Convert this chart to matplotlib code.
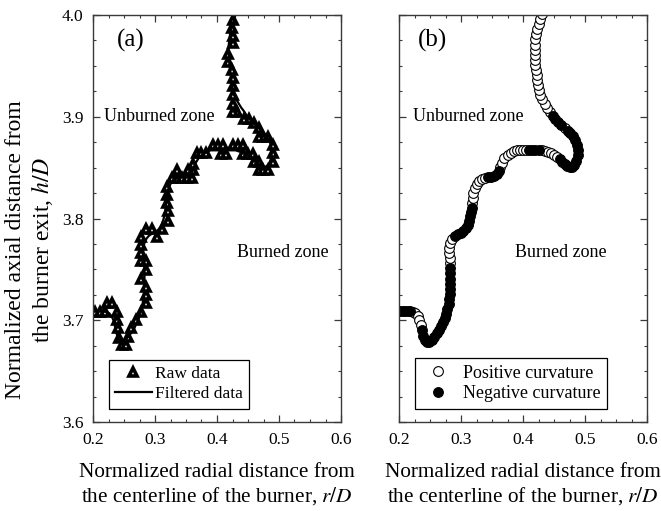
import numpy as np
import matplotlib
matplotlib.use("Agg")
import matplotlib.pyplot as plt
from matplotlib.ticker import MultipleLocator
from matplotlib.lines import Line2D

plt.rcParams['font.family'] = 'serif'
plt.rcParams['font.serif'] = ['Liberation Serif', 'DejaVu Serif']
plt.rcParams['mathtext.fontset'] = 'stix'

# filtered flame front (r/D, h/D)
filt_r = [0.198, 0.202, 0.206, 0.210, 0.214, 0.218,
          0.222, 0.226, 0.230, 0.233, 0.235,
          0.237, 0.239, 0.242, 0.245, 0.249, 0.253, 0.257, 0.261, 0.265, 0.268, 0.271,
          0.274, 0.276, 0.278, 0.280, 0.281, 0.282, 0.282, 0.283, 0.283, 0.283, 0.283,
          0.283, 0.282, 0.281, 0.281, 0.283, 0.286,
          0.290, 0.295, 0.300, 0.304, 0.308, 0.311, 0.313, 0.315, 0.316, 0.317,
          0.318, 0.319, 0.320, 0.322, 0.325, 0.329, 0.334, 0.339,
          0.344, 0.349, 0.354, 0.358, 0.361,
          0.363, 0.366, 0.370, 0.375, 0.380, 0.385, 0.390, 0.395, 0.400, 0.405,
          0.410, 0.415, 0.420, 0.425,
          0.430, 0.435, 0.440, 0.445, 0.450, 0.455,
          0.459, 0.463, 0.467, 0.471, 0.475, 0.479, 0.483, 0.486, 0.488, 0.488, 0.487,
          0.484, 0.480, 0.476, 0.472,
          0.467,
          0.462, 0.457, 0.452, 0.448,
          0.444, 0.439, 0.435, 0.431, 0.428, 0.426, 0.424, 0.423, 0.422, 0.421, 0.420,
          0.420, 0.419, 0.419, 0.419, 0.420, 0.421, 0.423, 0.425, 0.428, 0.430]
filt_h = [3.709, 3.709, 3.709, 3.709, 3.709, 3.709,
          3.708, 3.707, 3.704, 3.700, 3.695,
          3.690, 3.685, 3.681, 3.679, 3.679, 3.681, 3.684, 3.687, 3.690, 3.694, 3.698,
          3.702, 3.706, 3.711, 3.716, 3.721, 3.726, 3.731, 3.736, 3.741, 3.746, 3.751,
          3.756, 3.761, 3.766, 3.771, 3.776, 3.780,
          3.783, 3.785, 3.786, 3.788, 3.791, 3.794, 3.798, 3.802, 3.806, 3.810,
          3.815, 3.820, 3.825, 3.830, 3.834, 3.837, 3.839, 3.840,
          3.841, 3.841, 3.842, 3.844, 3.847,
          3.851, 3.855, 3.859, 3.862, 3.864, 3.866, 3.867, 3.867, 3.867, 3.867,
          3.867, 3.867, 3.867, 3.867,
          3.867, 3.866, 3.865, 3.864, 3.862, 3.860,
          3.858, 3.856, 3.854, 3.852, 3.851, 3.851, 3.853, 3.857, 3.862, 3.867, 3.872,
          3.877, 3.881, 3.884, 3.886,
          3.889,
          3.892, 3.895, 3.898, 3.901,
          3.905, 3.909, 3.913, 3.917, 3.921, 3.926, 3.931, 3.936, 3.941, 3.946, 3.951,
          3.956, 3.961, 3.966, 3.971, 3.976, 3.981, 3.986, 3.991, 3.996, 4.001]
# 1 = negative curvature, 0 = positive
neg = [1] * 6 + [0] * 5 + [1] * 22 + [0] * 6 + [1] * 10 + [0] * 8 + [1] * 5 + \
      [0] * 10 + [1] * 4 + [0] * 6 + [1] * 15 + [0] * 1 + [1] * 4 + [0] * 21

# raw (pixel-quantized) flame front points
raw_r = [0.203, 0.211, 0.219, 0.222, 0.230, 0.238, 0.238, 0.240, 0.242, 0.246, 0.254,
         0.256, 0.262, 0.270, 0.278, 0.286, 0.286, 0.286, 0.278, 0.286, 0.278, 0.286,
         0.278, 0.278, 0.278, 0.286, 0.295, 0.303, 0.311, 0.321, 0.321, 0.319, 0.319,
         0.319, 0.327, 0.335, 0.343, 0.351, 0.359, 0.335, 0.354, 0.362, 0.362, 0.367,
         0.375, 0.383, 0.394, 0.402, 0.410, 0.407, 0.415, 0.426, 0.434, 0.442, 0.442,
         0.450, 0.458, 0.459, 0.467, 0.467, 0.475, 0.483, 0.491, 0.491, 0.491, 0.483,
         0.475, 0.467, 0.467, 0.459, 0.451, 0.443, 0.432, 0.426, 0.426, 0.426, 0.426,
         0.426, 0.424, 0.418, 0.418, 0.426, 0.426, 0.424, 0.426]
raw_h = [3.708, 3.708, 3.708, 3.717, 3.717, 3.708, 3.700, 3.692, 3.683, 3.676, 3.676,
         3.684, 3.692, 3.700, 3.708, 3.717, 3.725, 3.733, 3.741, 3.749, 3.758, 3.758,
         3.766, 3.774, 3.782, 3.790, 3.790, 3.782, 3.790, 3.798, 3.807, 3.815, 3.823,
         3.831, 3.840, 3.840, 3.840, 3.840, 3.840, 3.848, 3.848, 3.848, 3.854, 3.864,
         3.864, 3.864, 3.872, 3.872, 3.872, 3.863, 3.863, 3.872, 3.872, 3.872, 3.863,
         3.863, 3.863, 3.856, 3.856, 3.848, 3.848, 3.848, 3.856, 3.864, 3.872, 3.880,
         3.880, 3.880, 3.889, 3.894, 3.898, 3.898, 3.905, 3.905, 3.913, 3.921, 3.930,
         3.938, 3.946, 3.954, 3.962, 3.972, 3.979, 3.987, 3.995]

xlabel = "Normalized radial distance from\nthe centerline of the burner, $r/D$"
ylabel = "Normalized axial distance from\nthe burner exit, $h/D$"

fig = plt.figure(figsize=(6.61, 5.11), dpi=100)
axa = fig.add_axes([93/661, 89/511, 248/661, 407/511])
axb = fig.add_axes([399/661, 89/511, 248/661, 407/511])

spine_col = '#3a3a3a'
for ax in (axa, axb):
    ax.set_xlim(0.2, 0.6)
    ax.set_ylim(3.6, 4.0)
    ax.xaxis.set_major_locator(MultipleLocator(0.1))
    ax.xaxis.set_minor_locator(MultipleLocator(0.025))
    ax.yaxis.set_major_locator(MultipleLocator(0.1))
    ax.yaxis.set_minor_locator(MultipleLocator(0.025))
    ax.tick_params(which='both', direction='in', top=True, right=True,
                   color=spine_col, labelsize=12.5, pad=7)
    ax.tick_params(which='major', length=5, width=0.9)
    ax.tick_params(which='minor', length=2.5, width=0.8)
    for s in ax.spines.values():
        s.set_color(spine_col)
        s.set_linewidth(1.0)
    ax.set_xticks([0.2, 0.3, 0.4, 0.5, 0.6])
    ax.set_xticklabels(['0.2', '0.3', '0.4', '0.5', '0.6'])
axa.set_yticks([3.6, 3.7, 3.8, 3.9, 4.0])
axa.set_yticklabels(['3.6', '3.7', '3.8', '3.9', '4.0'])
axb.tick_params(axis='y', labelleft=False)

# (a) raw vs filtered
tri = dict(ls='none', marker='^', ms=6, mfc='white', mec='black', mew=2.6)
axa.plot(raw_r, raw_h, **tri)
axa.plot(filt_r, filt_h, color='black', lw=1.6)
handles = [Line2D([], [], **tri), Line2D([], [], color='black', lw=1.6)]
leg = axa.legend(handles, ['Raw data', 'Filtered data'], loc='lower left',
                 bbox_to_anchor=(0.065, 0.033), borderaxespad=0, fontsize=12.5,
                 fancybox=False, framealpha=1, edgecolor='black', handlelength=2.1,
                 handletextpad=0.2, borderpad=0.35, labelspacing=0.25)
leg.get_frame().set_linewidth(0.9)

# (b) curvature sign
fr = np.array(filt_r)
fh = np.array(filt_h)
ng = np.array(neg) == 1
circ = dict(ls='none', marker='o', ms=7, mec='black', mew=0.8)
axb.plot(fr[~ng], fh[~ng], mfc='white', **circ)
axb.plot(fr[ng], fh[ng], mfc='black', **circ)
handles = [Line2D([], [], mfc='white', **circ), Line2D([], [], mfc='black', **circ)]
leg = axb.legend(handles, ['Positive curvature', 'Negative curvature'], loc='lower left',
                 bbox_to_anchor=(0.065, 0.033), borderaxespad=0, fontsize=13,
                 fancybox=False, framealpha=1, edgecolor='black', handlelength=1.8,
                 handletextpad=0.5, borderpad=0.35, labelspacing=0.2)
leg.get_frame().set_linewidth(0.9)

axa.text(0.238, 3.975, '(a)', fontsize=18, va='center')
axb.text(0.230, 3.975, '(b)', fontsize=18, va='center')
axa.text(0.218, 3.900, 'Unburned zone', fontsize=13, va='center')
axb.text(0.222, 3.900, 'Unburned zone', fontsize=13, va='center')
axa.text(0.432, 3.767, 'Burned zone', fontsize=13, va='center')
axb.text(0.387, 3.767, 'Burned zone', fontsize=13, va='center')

fig.text(30/661, 1 - 250/511, ylabel, rotation=90, ha='center', va='center',
         fontsize=17, linespacing=1.15, multialignment='center')
fig.text(217/661, 1 - 485/511, xlabel, ha='center', va='center',
         fontsize=15.3, linespacing=1.2, multialignment='center')
fig.text(523/661, 1 - 485/511, xlabel, ha='center', va='center',
         fontsize=15.3, linespacing=1.2, multialignment='center')

fig.savefig('out.png', dpi=100)
